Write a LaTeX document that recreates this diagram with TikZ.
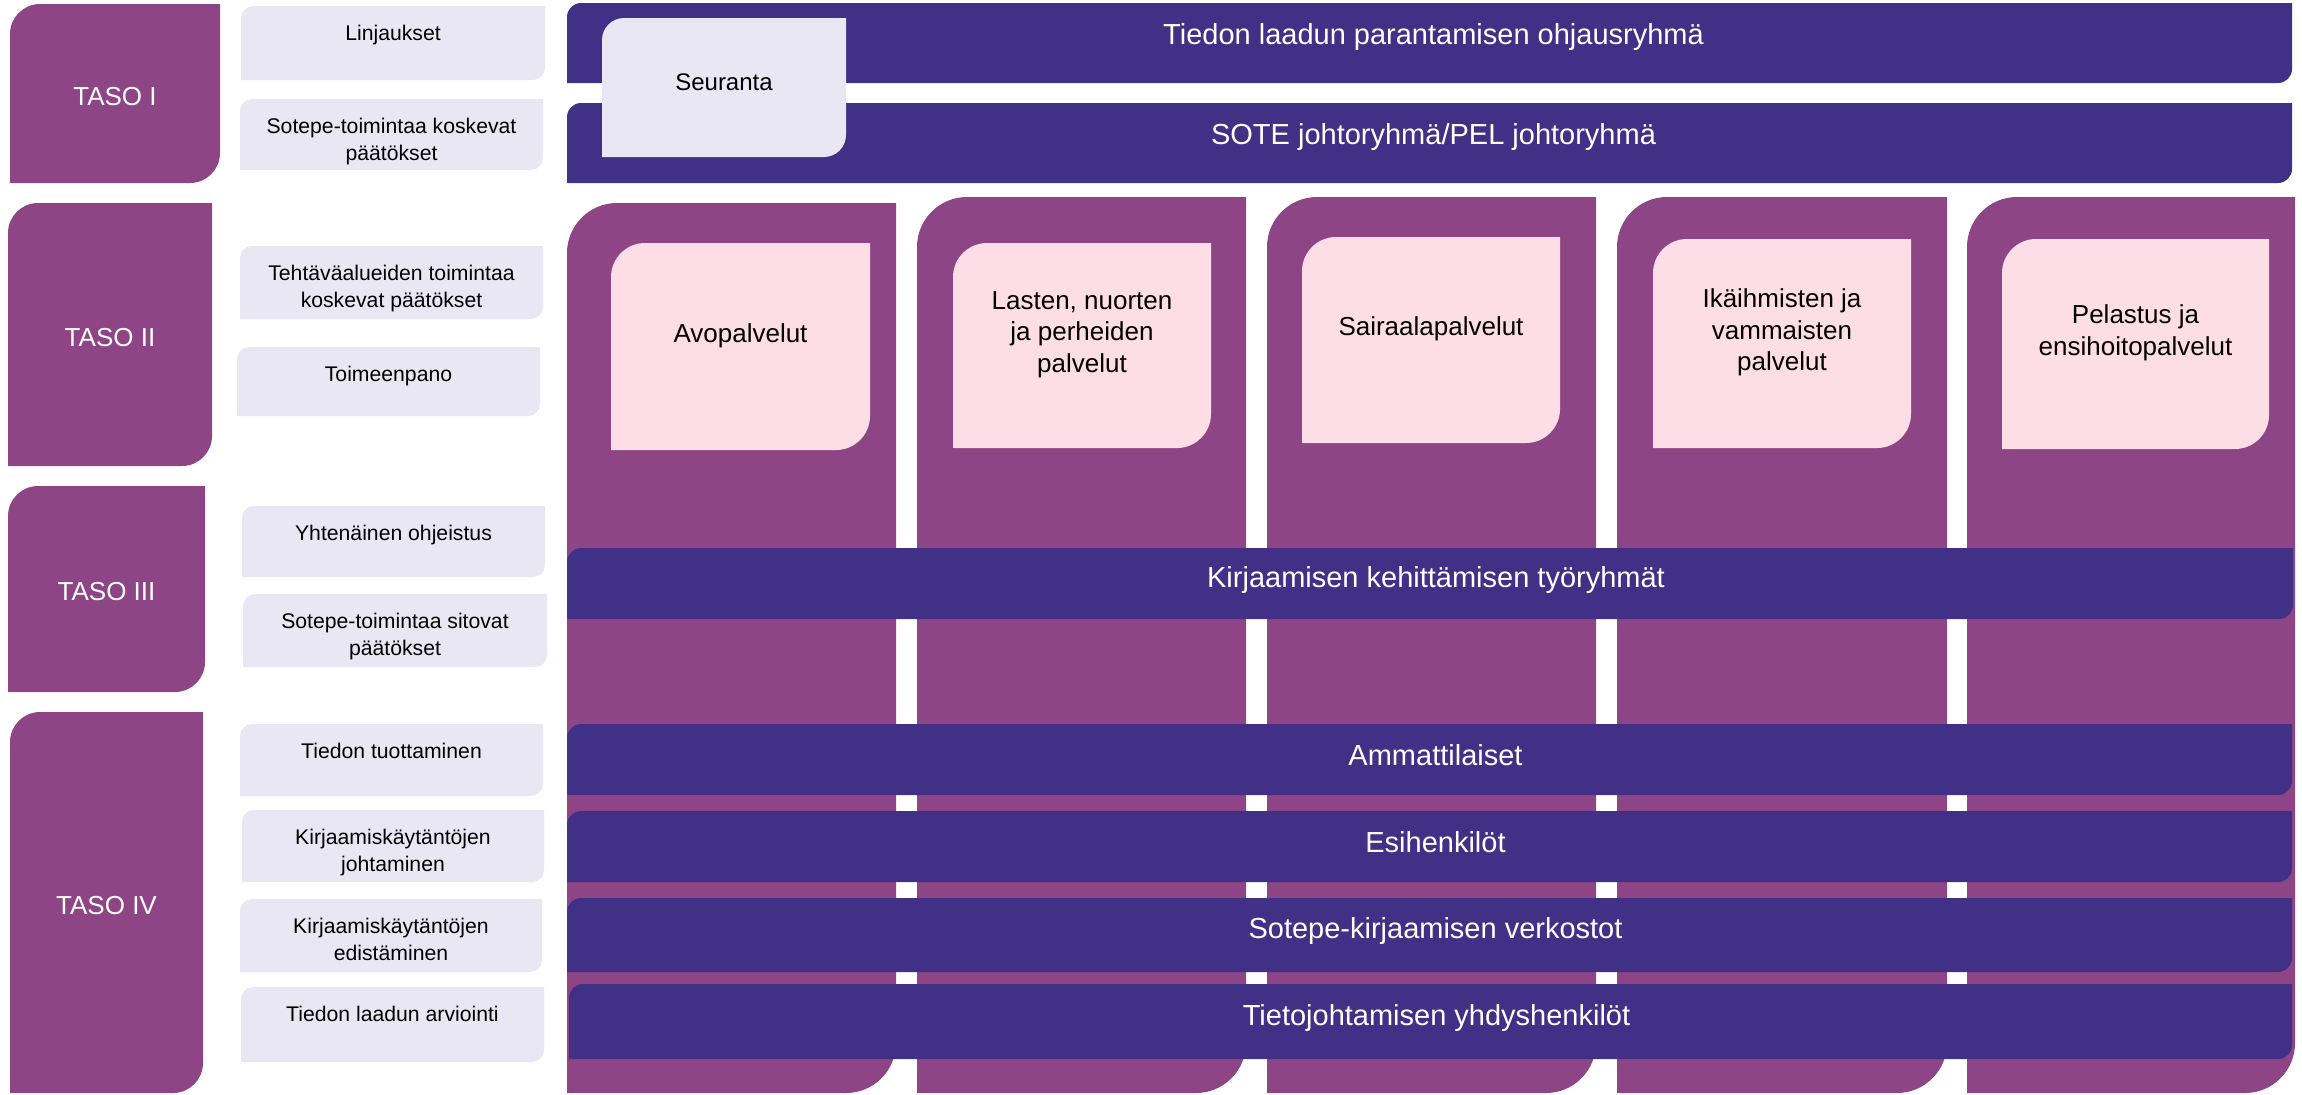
\documentclass[tikz,border=0pt]{standalone}
\usepackage{fontspec}
\setmainfont{Liberation Sans}
\usetikzlibrary{calc,fit,positioning}
\definecolor{tasopurple}{RGB}{142,69,133}
\definecolor{barblue}{RGB}{64,48,134}
\definecolor{lavender}{RGB}{234,231,245}
\definecolor{pinkbox}{RGB}{253,221,230}
% rounded top left and bottom right corners only
\tikzset{
  diag/.style 2 args={inner sep=0pt, path picture={
      \fill[#1] let \p1=(path picture bounding box.south west),
                    \p2=(path picture bounding box.north east) in
        (\x1,\y1) -- (\x1,\y2-#2) arc[start angle=180,end angle=90,radius=#2]
        -- (\x2,\y2) -- (\x2,\y1+#2) arc[start angle=0,end angle=-90,radius=#2] -- cycle;}}
}
\tikzstyle{taso}=[diag={tasopurple}{15pt}]
\tikzstyle{tasoteksti}=[inner sep=0pt, text=white, font=\fontsize{13}{15.6}\selectfont]
\tikzstyle{teema}=[diag={lavender}{6pt}]
\tikzstyle{teemateksti}=[inner sep=0pt, align=center, font=\fontsize{10.6}{13.5}\selectfont]
\tikzstyle{sarake}=[diag={tasopurple}{25pt}]
\tikzstyle{palvelu}=[diag={pinkbox}{17pt}]
\tikzstyle{palveluteksti}=[inner sep=0pt, align=center, font=\fontsize{13}{15.8}\selectfont]
\tikzstyle{palkki}=[diag={barblue}{7pt}]
\tikzstyle{palkkiteksti}=[inner sep=0pt, text=white, font=\fontsize{14.5}{17}\selectfont]
\tikzstyle{seuranta}=[diag={lavender}{11pt}]
\tikzstyle{seurantateksti}=[inner sep=0pt, font=\fontsize{12}{14}\selectfont]

\begin{document}
\begin{tikzpicture}[x=0.5pt,y=-0.5pt]
\useasboundingbox (0,0) rectangle (2302,1094);

% sarakkeet
\node[sarake, fit={(567,203) (896,1093)}] (c1) {};
\node[sarake, fit={(917,197) (1246,1093)}] (c2) {};
\node[sarake, fit={(1267,197) (1596,1093)}] (c3) {};
\node[sarake, fit={(1617,197) (1947,1093)}] (c4) {};
\node[sarake, fit={(1967,197) (2295,1093)}] (c5) {};

% palvelut
\node[palvelu, fit={(611,243) (870,450)}] (p1) {};
\node[palvelu, fit={(953,243) (1211,448)}] (p2) {};
\node[palvelu, fit={(1302,237) (1560,443)}] (p3) {};
\node[palvelu, fit={(1653,239) (1911,448)}] (p4) {};
\node[palvelu, fit={(2002,239) (2269,449)}] (p5) {};
\node[palveluteksti] (p1t) at ([yshift=5.5pt]p1.center) {Avopalvelut};
\node[palveluteksti] (p2t) at ([yshift=5.5pt]p2.center) {Lasten, nuorten\\ja perheiden\\palvelut};
\node[palveluteksti] (p3t) at ([yshift=5.5pt]p3.center) {Sairaalapalvelut};
\node[palveluteksti] (p4t) at ([yshift=5.5pt]p4.center) {Ikäihmisten ja\\vammaisten\\palvelut};
\node[palveluteksti] (p5t) at ([yshift=5.5pt]p5.center) {Pelastus ja\\ensihoitopalvelut};

% palkit
\node[palkki, fit={(567,3) (2292,83)}] (b1) {};
\node[palkki, fit={(567,103) (2292,183)}] (b2) {};
\node[palkki, fit={(567,548) (2293,619)}] (b3) {};
\node[palkki, fit={(567,724) (2292,795)}] (b4) {};
\node[palkki, fit={(567,811) (2292,882)}] (b5) {};
\node[palkki, fit={(567,898) (2292,972)}] (b6) {};
\node[palkki, fit={(569,984) (2292,1059)}] (b7) {};
\node[palkkiteksti] (b1t) at ([xshift=2pt,yshift=3pt]b1.center) {Tiedon laadun parantamisen ohjausryhmä};
\node[palkkiteksti] (b2t) at ([xshift=2pt,yshift=3pt]b2.center) {SOTE johtoryhmä/PEL johtoryhmä};
\node[palkkiteksti] (b3t) at ([xshift=3pt,yshift=2pt]b3.center) {Kirjaamisen kehittämisen työryhmät};
\node[palkkiteksti] (b4t) at ([xshift=3pt,yshift=2pt]b4.center) {Ammattilaiset};
\node[palkkiteksti] (b5t) at ([xshift=3pt,yshift=2pt]b5.center) {Esihenkilöt};
\node[palkkiteksti] (b6t) at ([xshift=3pt,yshift=2pt]b6.center) {Sotepe-kirjaamisen verkostot};
\node[palkkiteksti] (b7t) at ([xshift=3pt,yshift=2pt]b7.center) {Tietojohtamisen yhdyshenkilöt};
\node[seuranta, fit={(602,18) (846,157)}] (seur) {};
\node[seurantateksti] (seurt) at ([yshift=2.5pt]seur.center) {Seuranta};

% tasot
\node[taso, fit={(10,4) (220,183)}] (taso1) {};
\node[taso, fit={(8,203) (212,466)}] (taso2) {};
\node[taso, fit={(8,486) (205,692)}] (taso3) {};
\node[taso, fit={(10,712) (203,1093)}] (taso4) {};
\node[tasoteksti] (taso1t) at ([yshift=-1.5pt]taso1.center) {TASO I};
\node[tasoteksti] (taso2t) at ([yshift=-1.5pt]taso2.center) {TASO II};
\node[tasoteksti] (taso3t) at ([yshift=-1.5pt]taso3.center) {TASO III};
\node[tasoteksti] (taso4t) at ([yshift=-1.5pt]taso4.center) {TASO IV};

% teemat
\node[teema, fit={(241,6) (545,80)}] (lj) {};
\node[teema, fit={(240,99) (543,170)}] (sk) {};
\node[teema, fit={(240,246) (543,319)}] (tk) {};
\node[teema, fit={(237,347) (540,416)}] (tp) {};
\node[teema, fit={(242,506) (545,577)}] (yo) {};
\node[teema, fit={(243,594) (547,667)}] (ss) {};
\node[teema, fit={(240,724) (543,796)}] (tt) {};
\node[teema, fit={(242,810) (544,882)}] (kj) {};
\node[teema, fit={(240,899) (542,972)}] (ke) {};
\node[teema, fit={(241,987) (544,1062)}] (la) {};
\node[teemateksti, below=9.5pt of lj.north] (ljt) {Linjaukset};
\node[teemateksti, below=9.5pt of sk.north] (skt) {Sotepe-toimintaa koskevat\\päätökset};
\node[teemateksti, below=9.5pt of tk.north] (tkt) {Tehtäväalueiden toimintaa\\koskevat päätökset};
\node[teemateksti, below=9.5pt of tp.north] (tpt) {Toimeenpano};
\node[teemateksti, below=9.5pt of yo.north] (yot) {Yhtenäinen ohjeistus};
\node[teemateksti, below=9.5pt of ss.north] (sst) {Sotepe-toimintaa sitovat\\päätökset};
\node[teemateksti, below=9.5pt of tt.north] (ttt) {Tiedon tuottaminen};
\node[teemateksti, below=9.5pt of kj.north] (kjt) {Kirjaamiskäytäntöjen\\johtaminen};
\node[teemateksti, below=9.5pt of ke.north] (ket) {Kirjaamiskäytäntöjen\\edistäminen};
\node[teemateksti, below=9.5pt of la.north] (lat) {Tiedon laadun arviointi};
\end{tikzpicture}
\end{document}
